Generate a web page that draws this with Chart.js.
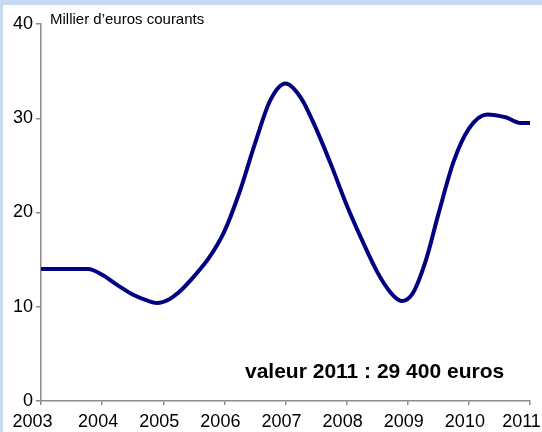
<!DOCTYPE html>
<html>
<head>
<meta charset="utf-8">
<script src="https://cdn.jsdelivr.net/npm/chart.js@4"></script>
<style>
  html, body { margin: 0; padding: 0; background: #c6d9f1; }
  #wrap { width: 542px; height: 432px; position: relative; }
  canvas { display: block; }
</style>
</head>
<body>
<div id="wrap"><canvas id="c" width="542" height="432"></canvas></div>
<script>
// Data
const years = [2003.0, 2003.25, 2003.5, 2003.77, 2004.0, 2004.25, 2004.5, 2004.72, 2004.9, 2005.1, 2005.25, 2005.5, 2005.75, 2006.0, 2006.25, 2006.5, 2006.75, 2007.0, 2007.25, 2007.5, 2007.75, 2008.0, 2008.25, 2008.5, 2008.72, 2008.9, 2009.08, 2009.3, 2009.5, 2009.75, 2010.0, 2010.3, 2010.6, 2010.85, 2011.0];
const values = [14.0, 14.0, 14.0, 14.0, 13.4, 12.3, 11.3, 10.7, 10.4, 10.8, 11.5, 13.2, 15.2, 18.0, 22.2, 27.3, 31.9, 33.7, 32.2, 28.9, 25.0, 20.8, 17.1, 13.7, 11.5, 10.6, 11.4, 15.0, 19.8, 25.4, 28.9, 30.4, 30.1, 29.5, 29.5];
const yTicks = [0, 10, 20, 30, 40];
const xTickYears = [2003, 2004, 2005, 2006, 2007, 2008, 2009, 2010, 2011];
const unitLabel = "Millier d\u2019euros courants";
const noteLabel = "valeur 2011 : 29 400 euros";

const points = years.map((x, i) => ({ x: x, y: values[i] }));

const bgPlugin = {
  id: 'bg',
  beforeDraw(chart) {
    const ctx = chart.ctx;
    ctx.save();
    ctx.fillStyle = '#c6d9f1';
    ctx.fillRect(0, 0, chart.width, chart.height);
    ctx.fillStyle = '#ffffff';
    ctx.fillRect(3, 5, chart.width - 3, chart.height - 5);
    ctx.restore();
  }
};

const textPlugin = {
  id: 'texts',
  afterDraw(chart) {
    const ctx = chart.ctx;
    const a = chart.chartArea;
    ctx.save();
    ctx.fillStyle = '#000000';
    ctx.textBaseline = 'alphabetic';
    ctx.textAlign = 'left';
    ctx.font = '15px "Liberation Sans", Arial, sans-serif';
    ctx.fillText(unitLabel, a.left + 9, 24);
    ctx.font = 'bold 21px "Liberation Sans", Arial, sans-serif';
    ctx.fillText(noteLabel, 245, 378);
    ctx.restore();
  }
};

const firstYear = xTickYears[0];
const lastYear = xTickYears[xTickYears.length - 1];

new Chart(document.getElementById('c'), {
  type: 'line',
  data: {
    datasets: [{
      data: points,
      borderColor: '#000080',
      borderWidth: 4,
      pointRadius: 0,
      fill: false,
      cubicInterpolationMode: 'monotone',
      borderCapStyle: 'round',
      borderJoinStyle: 'round'
    }]
  },
  options: {
    responsive: false,
    animation: false,
    devicePixelRatio: 1,
    plugins: { legend: { display: false }, tooltip: { enabled: false } },
    layout: { padding: { top: 24, right: 12, left: 0, bottom: 0 } },
    scales: {
      x: {
        type: 'linear',
        min: firstYear,
        max: lastYear,
        afterBuildTicks(scale) { scale.ticks = xTickYears.map(v => ({ value: v })); },
        afterFit(scale) { scale.height = 31; scale.paddingLeft = 0; scale.paddingRight = 0; },
        ticks: {
          color: '#000000',
          padding: 6,
          labelOffset: -4,
          maxRotation: 0,
          autoSkip: false,
          font: { family: '"Liberation Sans", Arial, sans-serif', size: 18 },
          callback: (v) => (v === firstYear || v === lastYear) ? String(v) + '\u2002' : String(v)
        },
        grid: { drawOnChartArea: false, drawTicks: true, tickLength: 4, color: '#8c8c8c', lineWidth: 1.5 },
        border: { display: true, color: '#8c8c8c', width: 1.5 }
      },
      y: {
        min: 0,
        max: 40,
        afterBuildTicks(scale) { scale.ticks = yTicks.map(v => ({ value: v })); },
        afterFit(scale) { scale.width = 41; scale.paddingTop = 0; scale.paddingBottom = 0; },
        ticks: {
          color: '#000000',
          padding: 3,
          font: { family: '"Liberation Sans", Arial, sans-serif', size: 18 },
          callback: (v) => String(v)
        },
        grid: { drawOnChartArea: false, drawTicks: true, tickLength: 5, color: '#8c8c8c', lineWidth: 1.5 },
        border: { display: true, color: '#8c8c8c', width: 1.5 }
      }
    }
  },
  plugins: [bgPlugin, textPlugin]
});
</script>
</body>
</html>
